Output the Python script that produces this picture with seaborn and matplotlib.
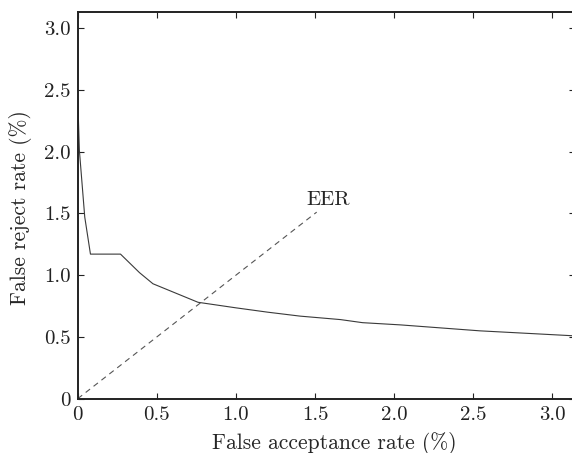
import matplotlib
matplotlib.use("Agg")
import matplotlib.pyplot as plt
import seaborn as sns
import pandas as pd

far = [0.0, 0.01, 0.044, 0.08, 0.27, 0.39, 0.475, 0.76, 1.0, 1.2, 1.405, 1.66, 1.8, 2.04, 2.54, 3.13, 3.2]
frr = [2.42, 2.01, 1.47, 1.17, 1.17, 1.02, 0.93, 0.78, 0.735, 0.70, 0.668, 0.64, 0.615, 0.597, 0.549, 0.509, 0.503]
eer_x = [0.0, 1.51]
eer_y = [0.0, 1.51]
ticks = [0, 0.5, 1.0, 1.5, 2.0, 2.5, 3.0]
tick_labels = ["0", "0.5", "1.0", "1.5", "2.0", "2.5", "3.0"]

sns.set_theme(style="ticks")
plt.rcParams["font.family"] = ["cmr10", "DejaVu Serif"]
plt.rcParams["mathtext.fontset"] = "cm"
plt.rcParams["axes.unicode_minus"] = False

fig = plt.figure(figsize=(5.72, 4.53), dpi=100)
ax = fig.add_axes([0.136, 0.120, 0.8685, 0.8535])

df = pd.DataFrame({"far": far, "frr": frr})
sns.lineplot(data=df, x="far", y="frr", ax=ax, color="#3a3a3a", linewidth=0.8, sort=False)
df2 = pd.DataFrame({"x": eer_x, "y": eer_y})
sns.lineplot(data=df2, x="x", y="y", ax=ax, color="#555555", linewidth=0.8, linestyle=(0, (5, 4)))
ax.text(1.585, 1.605, "EER", ha="center", va="center", fontsize=15)

ax.set_xlim(0, 3.14)
ax.set_ylim(0, 3.13)
ax.set_xticks(ticks)
ax.set_xticklabels(tick_labels)
ax.set_yticks(ticks)
ax.set_yticklabels(tick_labels)
ax.tick_params(direction="in", length=4, width=0.8, top=True, right=True, labelsize=15, pad=5, colors="#222222")
ax.set_xlabel("False acceptance rate (%)", fontsize=15.5)
ax.set_ylabel("False reject rate (%)", fontsize=15.5)
ax.xaxis.set_label_coords(0.517, -0.085)
ax.yaxis.set_label_coords(-0.093, 0.495)
for s in ax.spines.values():
    s.set_linewidth(1.4)
    s.set_color("#222222")

fig.savefig("out.png", dpi=100)
